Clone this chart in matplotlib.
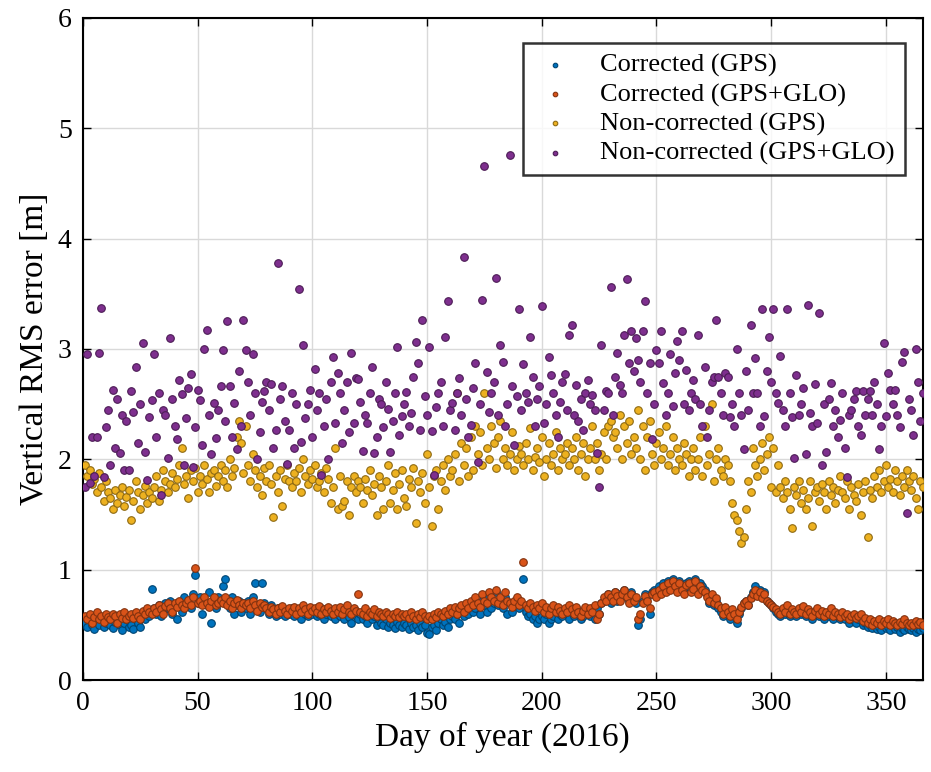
import numpy as np
import matplotlib
matplotlib.use("Agg")
import matplotlib.pyplot as plt
from matplotlib.colors import to_rgb

# day of year 2016
days = np.arange(1, 367)

corrected_gps = [
    0.52, 0.48, 0.55, 0.5, 0.46, 0.53, 0.5, 0.57, 0.48, 0.52,
    0.55, 0.5, 0.47, 0.53, 0.58, 0.5, 0.45, 0.52, 0.55, 0.48,
    0.5, 0.46, 0.55, 0.52, 0.48, 0.6, 0.55, 0.62, 0.58, 0.83,
    0.65, 0.6, 0.68, 0.58, 0.62, 0.7, 0.65, 0.72, 0.6, 0.68,
    0.55, 0.7, 0.62, 0.75, 0.68, 0.72, 0.65, 0.78, 0.95, 0.7,
    0.75, 0.6, 0.72, 0.68, 0.8, 0.52, 0.7, 0.65, 0.75, 0.72,
    0.85, 0.92, 0.7, 0.65, 0.75, 0.6, 0.68, 0.72, 0.62, 0.7,
    0.65, 0.72, 0.6, 0.75, 0.88, 0.68, 0.62, 0.88, 0.7, 0.65,
    0.6, 0.68, 0.62, 0.58, 0.65, 0.6, 0.63, 0.58, 0.62, 0.6,
    0.65, 0.58, 0.62, 0.6, 0.55, 0.63, 0.6, 0.58, 0.65, 0.6,
    0.62, 0.58, 0.6, 0.65, 0.55, 0.6, 0.62, 0.58, 0.6, 0.55,
    0.6, 0.58, 0.62, 0.55, 0.6, 0.57, 0.52, 0.6, 0.58, 0.55,
    0.6, 0.55, 0.58, 0.52, 0.6, 0.55, 0.58, 0.5, 0.55, 0.52,
    0.5, 0.55, 0.48, 0.52, 0.5, 0.47, 0.53, 0.5, 0.48, 0.52,
    0.5, 0.46, 0.52, 0.48, 0.5, 0.45, 0.52, 0.48, 0.5, 0.43,
    0.42, 0.48, 0.5, 0.45, 0.52, 0.55, 0.5, 0.53, 0.48, 0.55,
    0.58, 0.55, 0.6, 0.52, 0.62, 0.58, 0.65, 0.6, 0.68, 0.62,
    0.65, 0.7, 0.6, 0.72, 0.68, 0.62, 0.75, 0.65, 0.7, 0.8,
    0.68, 0.72, 0.65, 0.75, 0.6, 0.7, 0.62, 0.68, 0.72, 0.65,
    0.7, 0.92, 0.62, 0.58, 0.6, 0.55, 0.58, 0.52, 0.55, 0.58,
    0.55, 0.6, 0.52, 0.55, 0.58, 0.62, 0.55, 0.6, 0.58, 0.62,
    0.6, 0.55, 0.62, 0.58, 0.65, 0.6, 0.55, 0.58, 0.62, 0.6,
    0.58, 0.62, 0.55, 0.65, 0.6, 0.7, 0.72, 0.75, 0.78, 0.7,
    0.75, 0.8, 0.72, 0.78, 0.75, 0.82, 0.78, 0.72, 0.8, 0.75,
    0.7, 0.5, 0.55, 0.72, 0.78, 0.75, 0.6, 0.8, 0.82, 0.78,
    0.85, 0.8, 0.88, 0.82, 0.9, 0.85, 0.92, 0.88, 0.82, 0.9,
    0.85, 0.8, 0.88, 0.9, 0.82, 0.85, 0.92, 0.8, 0.88, 0.85,
    0.82, 0.78, 0.7, 0.75, 0.68, 0.72, 0.65, 0.62, 0.58, 0.65,
    0.6, 0.55, 0.62, 0.58, 0.52, 0.6, 0.65, 0.7, 0.72, 0.68,
    0.75, 0.8, 0.85, 0.78, 0.82, 0.75, 0.8, 0.72, 0.7, 0.68,
    0.65, 0.62, 0.6, 0.58, 0.62, 0.6, 0.65, 0.58, 0.62, 0.6,
    0.58, 0.62, 0.6, 0.65, 0.58, 0.62, 0.6, 0.55, 0.6, 0.62,
    0.58, 0.6, 0.55, 0.6, 0.58, 0.62, 0.55, 0.6, 0.58, 0.55,
    0.6, 0.55, 0.58, 0.52, 0.55, 0.58, 0.52, 0.55, 0.58, 0.5,
    0.52, 0.48, 0.5, 0.47, 0.5, 0.46, 0.48, 0.45, 0.5, 0.47,
    0.48, 0.45, 0.5, 0.46, 0.48, 0.44, 0.47, 0.45, 0.48, 0.46,
    0.45, 0.47, 0.44, 0.46, 0.45, 0.47,
]

corrected_gps_glo = [
    0.58, 0.55, 0.6, 0.52, 0.57, 0.62, 0.55, 0.58, 0.53, 0.6,
    0.57, 0.55, 0.6, 0.58, 0.52, 0.6, 0.56, 0.62, 0.55, 0.58,
    0.6, 0.56, 0.62, 0.58, 0.55, 0.63, 0.6, 0.65, 0.62, 0.6,
    0.65, 0.62, 0.68, 0.64, 0.6, 0.67, 0.7, 0.65, 0.62, 0.7,
    0.66, 0.72, 0.68, 0.65, 0.7, 0.73, 0.68, 0.75, 1.02, 0.7,
    0.72, 0.68, 0.75, 0.7, 0.66, 0.72, 0.75, 0.68, 0.7, 0.73,
    0.7, 0.75, 0.68, 0.72, 0.65, 0.7, 0.73, 0.68, 0.65, 0.7,
    0.68, 0.7, 0.65, 0.72, 0.68, 0.63, 0.7, 0.66, 0.68, 0.65,
    0.62, 0.66, 0.64, 0.6, 0.65, 0.62, 0.67, 0.63, 0.6, 0.65,
    0.63, 0.66, 0.6, 0.65, 0.62, 0.68, 0.64, 0.6, 0.66, 0.63,
    0.65, 0.62, 0.67, 0.6, 0.64, 0.62, 0.66, 0.63, 0.6, 0.65,
    0.62, 0.66, 0.6, 0.64, 0.68, 0.62, 0.6, 0.65, 0.63, 0.78,
    0.62, 0.6, 0.65, 0.58, 0.62, 0.6, 0.64, 0.58, 0.62, 0.6,
    0.58, 0.62, 0.6, 0.56, 0.6, 0.58, 0.62, 0.57, 0.6, 0.58,
    0.6, 0.56, 0.62, 0.58, 0.55, 0.6, 0.57, 0.62, 0.58, 0.55,
    0.58, 0.55, 0.6, 0.57, 0.62, 0.6, 0.58, 0.63, 0.6, 0.65,
    0.62, 0.66, 0.6, 0.65, 0.68, 0.62, 0.7, 0.65, 0.72, 0.68,
    0.75, 0.7, 0.66, 0.78, 0.72, 0.7, 0.8, 0.75, 0.72, 0.82,
    0.7, 0.75, 0.68, 0.8, 0.72, 0.7, 0.66, 0.72, 0.75, 0.68,
    0.72, 1.07, 0.68, 0.65, 0.7, 0.66, 0.63, 0.68, 0.65, 0.7,
    0.62, 0.66, 0.6, 0.65, 0.68, 0.62, 0.66, 0.63, 0.6, 0.65,
    0.62, 0.68, 0.64, 0.6, 0.66, 0.62, 0.58, 0.63, 0.66, 0.6,
    0.65, 0.62, 0.68, 0.55, 0.6, 0.7, 0.75, 0.72, 0.78, 0.75,
    0.72, 0.8, 0.76, 0.72, 0.78, 0.82, 0.75, 0.7, 0.78, 0.72,
    0.75, 0.55, 0.6, 0.7, 0.76, 0.72, 0.65, 0.78, 0.8, 0.75,
    0.82, 0.78, 0.85, 0.8, 0.88, 0.82, 0.9, 0.85, 0.8, 0.88,
    0.82, 0.78, 0.86, 0.88, 0.8, 0.83, 0.9, 0.78, 0.85, 0.82,
    0.8, 0.75, 0.72, 0.78, 0.7, 0.74, 0.68, 0.65, 0.6, 0.66,
    0.62, 0.58, 0.64, 0.6, 0.55, 0.62, 0.66, 0.7, 0.72, 0.68,
    0.74, 0.78, 0.82, 0.76, 0.8, 0.74, 0.78, 0.72, 0.7, 0.68,
    0.66, 0.64, 0.62, 0.6, 0.65, 0.62, 0.68, 0.6, 0.64, 0.62,
    0.6, 0.65, 0.62, 0.67, 0.6, 0.64, 0.62, 0.58, 0.63, 0.65,
    0.6, 0.63, 0.58, 0.62, 0.6, 0.65, 0.58, 0.62, 0.6, 0.57,
    0.62, 0.58, 0.6, 0.55, 0.58, 0.6, 0.56, 0.58, 0.6, 0.54,
    0.56, 0.52, 0.55, 0.5, 0.54, 0.52, 0.55, 0.5, 0.54, 0.52,
    0.55, 0.5, 0.54, 0.52, 0.5, 0.53, 0.51, 0.55, 0.52, 0.5,
    0.52, 0.5, 0.54, 0.51, 0.53, 0.5,
]

noncorrected_gps = [
    1.95, 1.85, 1.9, 1.78, 1.82, 1.7, 1.88, 1.75, 1.62, 1.8,
    1.7, 1.65, 1.55, 1.72, 1.6, 1.68, 1.75, 1.58, 1.66, 1.72,
    1.45, 1.62, 1.8, 1.7, 1.55, 1.68, 1.76, 1.6, 1.7, 1.65,
    1.75, 1.85, 1.62, 1.72, 1.9, 1.8, 1.7, 1.78, 1.88, 1.75,
    1.82, 1.95, 2.1, 1.78, 1.85, 1.65, 1.9, 1.8, 1.92, 1.7,
    1.85, 1.78, 1.95, 1.82, 1.7, 1.88, 1.9, 1.76, 1.85, 1.95,
    1.8, 1.9, 1.75, 2.0, 1.85, 1.92, 2.2, 2.35, 2.15, 1.88,
    2.3, 1.95, 1.8, 2.05, 1.9, 1.75, 1.85, 1.68, 1.92, 1.8,
    1.95, 1.78, 1.48, 1.85, 1.7, 1.9, 1.58, 1.82, 1.95, 1.8,
    1.75, 1.88, 1.8, 1.92, 1.7, 2.0, 1.85, 1.78, 1.9, 1.82,
    1.95, 1.75, 1.8, 1.88, 1.7, 1.92, 1.82, 1.6, 1.75, 2.1,
    1.55, 1.85, 1.58, 1.62, 1.8, 1.5, 1.75, 1.85, 1.7, 1.8,
    1.75, 1.6, 1.82, 1.72, 1.9, 1.68, 1.78, 1.5, 1.85, 1.75,
    1.55, 1.8, 1.95, 1.6, 1.72, 1.88, 1.55, 1.78, 1.9, 1.65,
    1.58, 1.82, 1.75, 1.92, 1.42, 1.8, 1.7, 1.88, 1.6, 2.05,
    1.75, 1.4, 1.85, 1.9, 1.55, 1.8, 1.95, 1.72, 2.0, 1.85,
    1.9, 2.05, 2.6, 1.8, 2.15, 1.95, 2.1, 1.85, 2.2, 1.9,
    2.3, 2.05, 2.25, 1.95, 2.6, 2.1, 2.0, 2.3, 2.15, 1.92,
    2.2, 2.35, 2.0, 2.1, 1.95, 2.05, 2.25, 1.9, 2.0, 2.12,
    2.05, 1.95, 2.15, 2.0, 2.28, 1.9, 2.02, 2.1, 1.98, 2.2,
    1.85, 2.0, 2.15, 1.95, 2.05, 2.25, 1.9, 2.1, 2.0, 2.05,
    2.15, 1.95, 2.1, 2.0, 2.2, 1.9, 2.05, 2.15, 1.85, 2.0,
    2.1, 2.3, 2.0, 2.15, 1.9, 2.05, 2.25, 2.0, 2.3, 2.35,
    2.2, 2.25, 2.1, 2.4, 2.0, 2.3, 2.15, 2.35, 2.05, 2.2,
    2.1, 2.45, 2.0, 2.3, 1.9, 2.2, 2.35, 2.05, 1.95, 2.15,
    2.25, 2.0, 2.1, 2.3, 1.95, 2.05, 2.2, 1.9, 2.1, 2.0,
    1.95, 2.15, 2.05, 1.85, 2.0, 2.1, 1.9, 2.0, 2.2, 1.85,
    2.3, 1.95, 2.05, 2.5, 1.8, 2.0, 2.1, 1.9, 1.85, 2.0,
    1.95, 1.8, 1.6, 1.5, 1.45, 1.35, 1.24, 1.3, 1.55, 1.8,
    1.7, 2.1, 1.95, 1.85, 2.0, 2.15, 1.9, 2.05, 2.2, 1.75,
    2.1, 1.7, 1.95, 1.75, 1.65, 1.8, 1.7, 1.55, 1.38, 1.75,
    1.68, 1.8, 1.6, 1.72, 1.55, 1.65, 1.8, 1.4, 1.7, 1.75,
    1.62, 1.78, 1.7, 1.55, 1.8, 1.68, 1.75, 1.6, 1.72, 1.85,
    1.7, 1.65, 1.8, 1.55, 1.75, 1.68, 1.62, 1.78, 1.5, 1.7,
    1.8, 1.3, 1.72, 1.65, 1.85, 1.75, 1.9, 1.7, 1.8, 1.95,
    1.75, 1.82, 1.7, 1.9, 1.8, 1.68, 1.85, 1.75, 1.9, 1.8,
    1.72, 1.85, 1.65, 1.55, 1.8, 1.75,
]

noncorrected_gps_glo = [
    1.75, 2.95, 1.79, 2.2, 1.85, 2.2, 2.96, 3.37, 1.84, 2.29,
    2.45, 1.95, 2.63, 2.1, 2.55, 2.06, 2.4, 1.9, 2.35, 1.9,
    2.62, 2.43, 2.84, 2.15, 2.5, 3.05, 2.07, 1.81, 2.38, 2.54,
    2.95, 2.2, 2.6, 1.68, 2.45, 2.4, 2.01, 3.1, 2.55, 2.3,
    2.18, 2.72, 2.59, 1.95, 2.37, 2.65, 2.77, 1.93, 2.29, 2.63,
    2.54, 2.13, 3.0, 3.17, 2.4, 2.05, 2.51, 2.19, 2.45, 2.66,
    2.99, 2.35, 3.25, 2.66, 2.2, 2.51, 2.09, 2.8, 2.3, 3.26,
    2.99, 2.7, 2.4, 2.95, 2.6, 2.0, 2.25, 2.52, 2.62, 2.7,
    2.45, 2.68, 2.1, 2.27, 3.78, 2.55, 2.66, 2.35, 1.96, 2.27,
    2.6, 2.1, 2.5, 3.54, 2.16, 3.04, 2.37, 2.5, 2.63, 2.2,
    2.82, 2.45, 2.6, 1.86, 2.3, 2.55, 2.0, 2.7, 2.93, 2.33,
    2.78, 2.6, 2.15, 2.45, 2.7, 2.25, 2.96, 2.33, 2.74, 2.73,
    2.52, 2.08, 2.4, 2.33, 2.6, 2.84, 2.06, 2.2, 2.55, 2.5,
    2.29, 2.7, 2.46, 2.07, 2.35, 2.6, 3.02, 2.22, 2.39, 2.5,
    2.61, 2.3, 2.42, 2.75, 3.06, 2.87, 2.27, 3.26, 2.57, 2.4,
    3.02, 2.26, 1.86, 2.47, 2.6, 2.7, 2.3, 3.11, 3.43, 2.45,
    2.51, 2.27, 2.6, 2.74, 2.4, 3.83, 2.55, 2.2, 2.31, 2.65,
    2.87, 1.98, 2.5, 3.44, 4.66, 2.79, 2.43, 2.6, 2.7, 3.64,
    2.4, 3.04, 2.88, 2.3, 2.5, 4.76, 2.66, 2.13, 2.57, 3.36,
    2.45, 2.86, 2.6, 2.52, 3.11, 2.75, 2.3, 2.55, 2.66, 3.39,
    2.33, 2.5, 2.93, 2.76, 2.6, 2.4, 2.2, 2.52, 2.7, 2.77,
    2.45, 3.13, 3.22, 2.4, 2.67, 2.35, 2.55, 2.27, 2.6, 2.72,
    2.5, 2.58, 2.45, 2.06, 1.75, 3.04, 2.45, 2.62, 2.6, 3.56,
    2.4, 2.75, 2.96, 2.67, 2.6, 3.13, 3.63, 2.87, 3.16, 2.8,
    3.1, 2.9, 2.7, 3.16, 3.43, 2.6, 2.87, 2.18, 2.5, 2.99,
    2.87, 3.16, 2.69, 2.4, 2.6, 2.95, 2.48, 2.78, 3.07, 2.9,
    3.16, 2.5, 2.81, 2.45, 2.6, 2.72, 2.55, 3.13, 2.5, 2.3,
    2.84, 2.2, 2.45, 2.7, 2.75, 3.26, 2.75, 2.6, 2.4, 2.78,
    2.75, 2.38, 2.5, 2.3, 3.0, 2.6, 2.4, 2.09, 2.8, 2.45,
    3.22, 2.6, 2.92, 2.6, 2.3, 3.36, 2.39, 2.8, 3.11, 2.7,
    3.36, 2.6, 2.51, 2.94, 2.45, 2.3, 3.36, 2.6, 2.38, 2.01,
    2.76, 2.4, 2.5, 2.65, 2.05, 3.4, 2.42, 2.3, 2.68, 2.33,
    3.33, 1.95, 2.5, 2.07, 2.55, 2.69, 2.3, 2.45, 2.2, 2.36,
    2.6, 2.1, 1.84, 2.4, 2.45, 2.55, 2.62, 2.3, 2.22, 2.62,
    2.4, 2.55, 2.62, 2.4, 2.7, 2.5, 2.09, 2.3, 3.05, 2.39,
    2.78, 2.63, 2.5, 2.63, 2.4, 2.29, 2.88, 2.97, 1.51, 2.55,
    2.45, 2.22, 3.0, 2.7, 2.35, 2.6,
]

series = [
    ("Corrected (GPS)", corrected_gps, "#0072bd"),
    ("Corrected (GPS+GLO)", corrected_gps_glo, "#d95319"),
    ("Non-corrected (GPS)", noncorrected_gps, "#edb120"),
    ("Non-corrected (GPS+GLO)", noncorrected_gps_glo, "#7e2f8e"),
]

plt.rcParams["font.family"] = ["Liberation Serif", "DejaVu Serif"]

fig = plt.figure(figsize=(9.31, 7.72), dpi=100)
ax = fig.add_axes([0.089, 0.119, 0.902, 0.858])

for label, vals, col in series:
    edge = tuple(c * 0.6 for c in to_rgb(col))
    ax.scatter(days, vals, s=30, marker="o", color=col, edgecolors=edge,
               linewidths=0.8, label=label, zorder=3)

ax.set_xlim(0, 366)
ax.set_ylim(0, 6)
ax.set_xticks(np.arange(0, 351, 50))
ax.set_yticks(np.arange(0, 7, 1))
ax.grid(True, color="#d9d9d9", linewidth=1.0, zorder=0)
ax.set_axisbelow(True)
ax.tick_params(direction="in", top=True, right=True, labelsize=20,
               length=6, width=1.0, pad=8)
for sp in ax.spines.values():
    sp.set_linewidth(1.5)

ax.set_xlabel("Day of year (2016)", fontsize=24, labelpad=4)
ax.set_ylabel("Vertical RMS error [m]", fontsize=24, labelpad=6)

leg = ax.legend(loc="upper right", bbox_to_anchor=(0.979, 0.962),
                borderaxespad=0, fontsize=19, frameon=True, fancybox=False,
                markerscale=0.6, handletextpad=0.9, borderpad=0.4,
                labelspacing=0.2, handlelength=1.6)
leg.get_frame().set_edgecolor("black")
leg.get_frame().set_linewidth(1.8)

fig.savefig("out.png", dpi=100)
